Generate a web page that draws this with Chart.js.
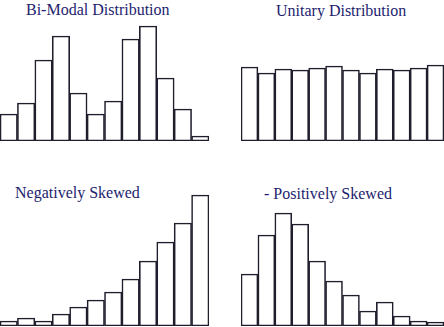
<!DOCTYPE html>
<html>
<head>
<meta charset="utf-8">
<script src="https://cdn.jsdelivr.net/npm/chart.js@4"></script>
<style>
  html, body { margin: 0; padding: 0; background: #ffffff; }
  #wrap { position: relative; width: 444px; height: 327px; overflow: hidden; background: #fff; }
  canvas { position: absolute; }
  .ttl { position: absolute; white-space: nowrap; font-family: "Liberation Serif", "DejaVu Serif", serif;
         font-size: 16px; line-height: 16px; color: #1d1d6e; }
</style>
</head>
<body>
<div id="wrap">
  <div class="ttl" id="t1" style="left:26px; top:1.6px;"></div>
  <div class="ttl" id="t2" style="left:276px; top:3.3px;"></div>
  <div class="ttl" id="t3" style="left:15px; top:185px;"></div>
  <div class="ttl" id="t4" style="left:264px; top:185.6px;"></div>
  <canvas id="c1" width="209" height="121" style="left:0px; top:20px;"></canvas>
  <canvas id="c2" width="203" height="121" style="left:241px; top:20px;"></canvas>
  <canvas id="c3" width="209" height="136" style="left:0px; top:190px;"></canvas>
  <canvas id="c4" width="203" height="136" style="left:241px; top:190px;"></canvas>
</div>
<script>
// Titles
const titles = ["Bi-Modal Distribution", "Unitary Distribution", "Negatively Skewed", "- Positively Skewed"];

// Bin labels (12 bins per histogram)
const bins = ["1", "2", "3", "4", "5", "6", "7", "8", "9", "10", "11", "12"];

// Frequencies
const biModal     = [27, 38, 81, 105, 48, 27, 40, 102, 115, 63, 32, 5];
const unitary     = [74, 68, 72, 71, 73, 75, 71, 68, 72, 71, 73, 76];
const negSkewed   = [5, 8, 5, 12, 19, 26, 34, 47, 65, 84, 103, 131];
const posSkewed   = [52, 91, 113, 102, 65, 45, 31, 15, 24, 10, 5, 4];

// Axis ranges
const topMax = 121;
const bottomMax = 136;

["t1", "t2", "t3", "t4"].forEach((id, i) => { document.getElementById(id).textContent = titles[i]; });

function histogram(canvasId, values, yMax) {
  return new Chart(document.getElementById(canvasId), {
    type: 'bar',
    data: {
      labels: bins,
      datasets: [{
        data: values,
        backgroundColor: '#ffffff',
        borderColor: '#1e1e2c',
        borderWidth: 1.6,
        borderSkipped: false,
        categoryPercentage: 1.0,
        barPercentage: 1.0
      }]
    },
    options: {
      responsive: false,
      animation: false,
      devicePixelRatio: 1,
      layout: { padding: 0 },
      plugins: { legend: { display: false }, title: { display: false }, tooltip: { enabled: false } },
      scales: {
        x: { display: false, grid: { display: false } },
        y: { display: false, min: 0, max: yMax, grid: { display: false } }
      }
    }
  });
}

histogram('c1', biModal, topMax);
histogram('c2', unitary, topMax);
histogram('c3', negSkewed, bottomMax);
histogram('c4', posSkewed, bottomMax);
</script>
</body>
</html>
